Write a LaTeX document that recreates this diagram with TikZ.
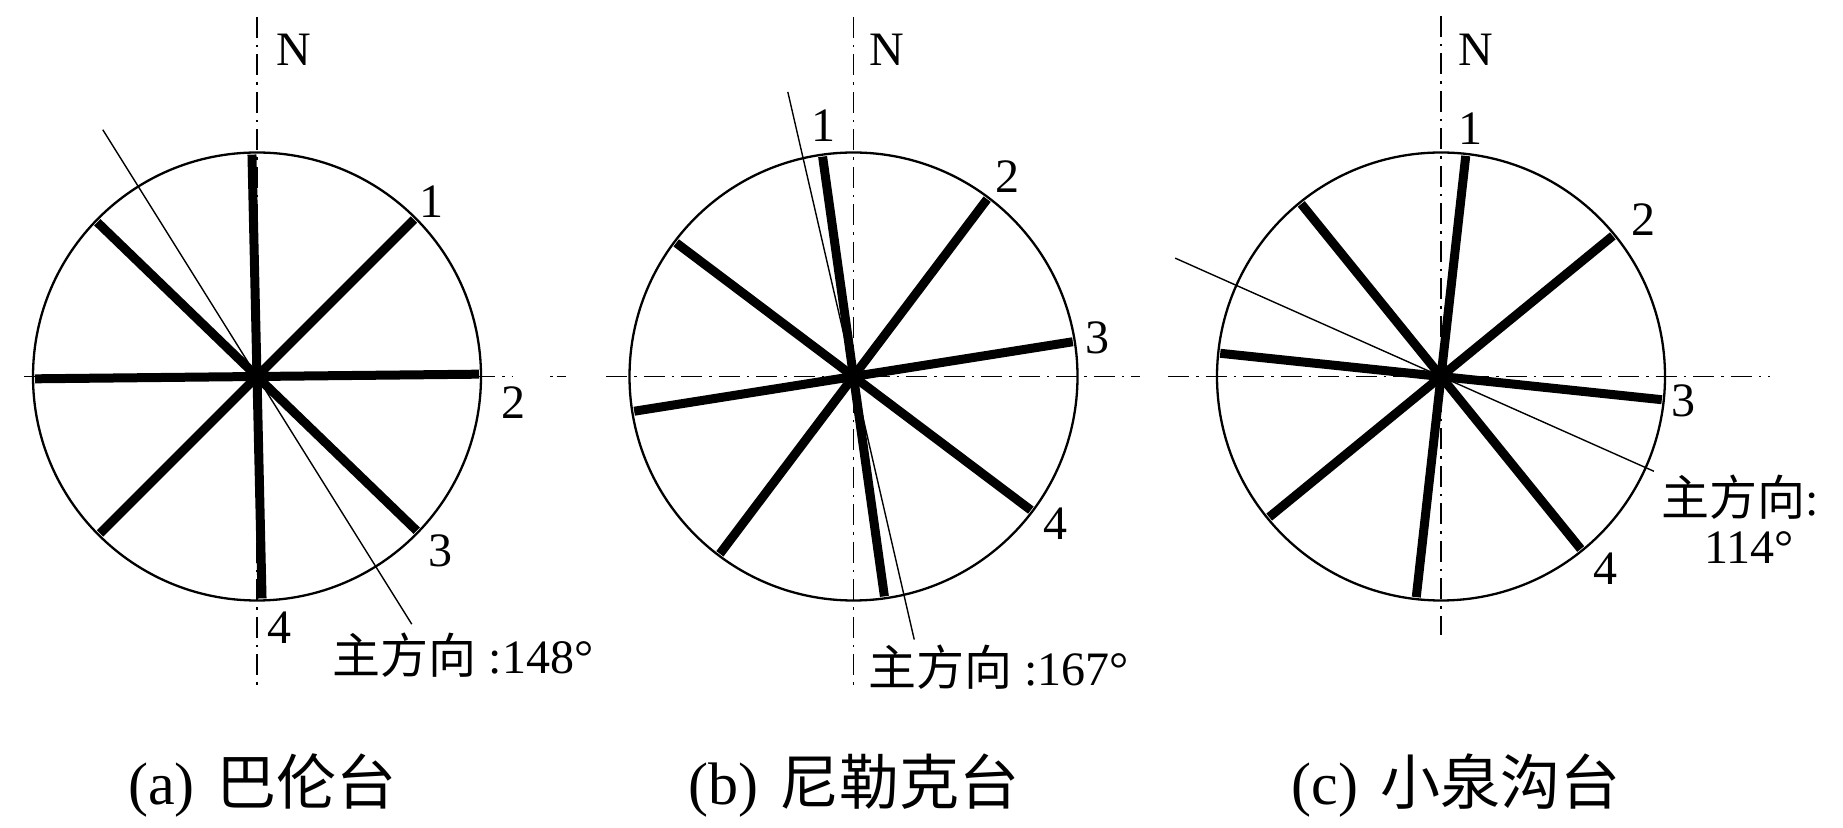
\documentclass[tikz,border=0pt]{standalone}
\usepackage{fontspec}
\setmainfont{Liberation Serif}
\newfontfamily\cjk{Noto Sans CJK SC}
\usetikzlibrary{calc}
\begin{document}
\begin{tikzpicture}[x=1pt,y=1pt,
  axisline/.style={line width=1.5pt, dash pattern=on 21pt off 7pt on 2.5pt off 7pt},
  rim/.style={line width=2.3pt},
  joint/.style={line width=9pt},
  mainline/.style={line width=1.4pt},
  lbl/.style={font=\fontsize{48}{52}\selectfont, inner sep=0pt},
  captext/.style={font=\fontsize{60}{66}\selectfont, inner sep=0pt}]
\useasboundingbox (0,0) rectangle (1843,827);

% ---------- centres ----------
\coordinate (ca) at (257,450.5);
\coordinate (cb) at (853.5,450.5);
\coordinate (cc) at (1441,450.5);

% ---------- axes ----------
\coordinate (aN) at (257,810);  \coordinate (aS) at (257,140);
\coordinate (aW) at (24,450.5); \coordinate (aE) at (512,450.5);
\draw[axisline] (aN) -- (aS);
\draw[axisline] (aW) -- (aE);
\draw[line width=1.5pt, dash pattern=on 2.5pt off 4pt on 10pt off 2pt] (550,450.5) -- (566,450.5);

\coordinate (bN) at (853.5,810); \coordinate (bS) at (853.5,137);
\coordinate (bW) at (606,450.5); \coordinate (bE) at (1140,450.5);
\draw[axisline] (bN) -- (bS);
\draw[axisline] (bW) -- (bE);

\coordinate (cN) at (1441,811);  \coordinate (cS) at (1441,192);
\coordinate (cW) at (1168,450.5); \coordinate (cE) at (1770,450.5);
\draw[axisline] (cN) -- (cS);
\draw[axisline] (cW) -- (cE);

% ---------- joint sets (thick lines) ----------
\foreach \b in {45,89.4,134,178.7}
  \draw[joint] ($(ca)+({90-\b}:222)$) -- ($(ca)+({270-\b}:222)$);
\foreach \b in {-8,37,81,127}
  \draw[joint] ($(cb)+({90-\b}:222)$) -- ($(cb)+({270-\b}:222)$);
\foreach \b in {6.4,50.7,96,141}
  \draw[joint] ($(cc)+({90-\b}:222)$) -- ($(cc)+({270-\b}:222)$);

% ---------- circles ----------
\draw[rim] (ca) circle[radius=224];
\draw[rim] (cb) circle[radius=224];
\draw[rim] (cc) circle[radius=224];

% ---------- principal directions ----------
\draw[mainline] ($(ca)+({90-328}:291)$) -- ($(ca)+({90-148}:292)$);
\draw[mainline] ($(cb)+({90-347}:292)$) -- ($(cb)+({90-167}:270)$);
\draw[mainline] ($(cc)+({90-294}:291)$) -- ($(cc)+({90-114}:233)$);

% ---------- labels (a) ----------
\node[lbl] (laN) at (294,777) {N};
\node[lbl] (la1) at (431,625) {1};
\node[lbl] (la2) at (513,424) {2};
\node[lbl] (la3) at (440,276) {3};
\node[lbl] (la4) at (279,199) {4};
\node[lbl] (lam) at (463,172) {{\cjk 主方向} :148°};

% ---------- labels (b) ----------
\node[lbl] (lbN) at (887,777) {N};
\node[lbl] (lb1) at (823,701) {1};
\node[lbl] (lb2) at (1007,650) {2};
\node[lbl] (lb3) at (1097,489.5) {3};
\node[lbl] (lb4) at (1055,303.6) {4};
\node[lbl] (lbm) at (998.5,160) {{\cjk 主方向} :167°};

% ---------- labels (c) ----------
\node[lbl] (lcN) at (1476,777) {N};
\node[lbl] (lc1) at (1470,698) {1};
\node[lbl] (lc2) at (1643,607) {2};
\node[lbl] (lc3) at (1683,426) {3};
\node[lbl] (lc4) at (1605,258) {4};
\node[lbl] (lcm) at (1740,330) {{\cjk 主方向}:};
\node[lbl] (lcd) at (1749,279) {114°};

% ---------- captions ----------
\node[captext] (capa) at (262.5,41) {(a)\hspace{22pt}{\cjk 巴伦台}};
\node[captext] (capb) at (854,41) {(b)\hspace{22pt}{\cjk 尼勒克台}};
\node[captext] (capc) at (1456,41) {(c)\hspace{22pt}{\cjk 小泉沟台}};
\end{tikzpicture}
\end{document}
